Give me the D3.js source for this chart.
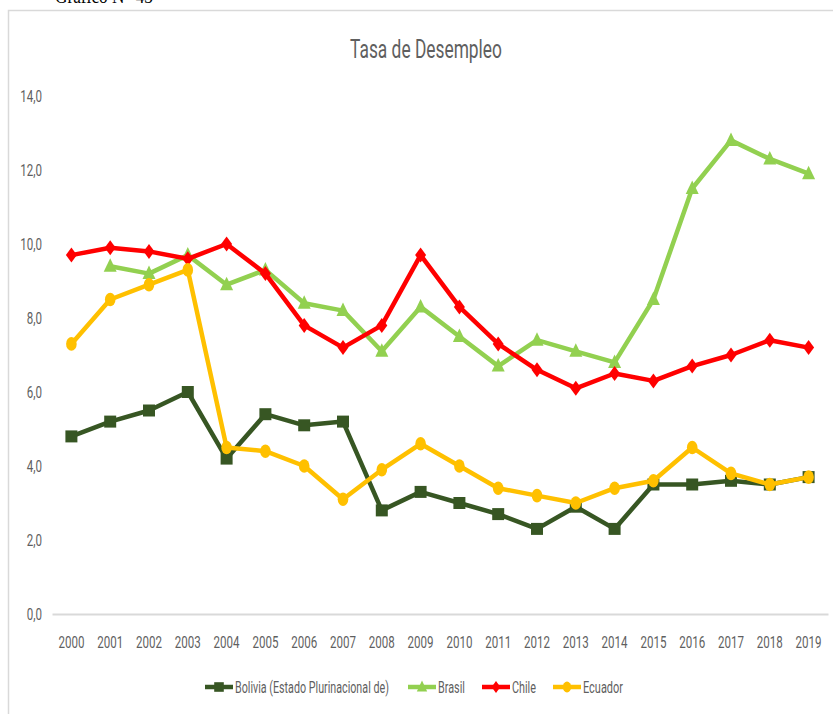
<!DOCTYPE html>
<html><head><meta charset="utf-8">
<script src="https://cdn.jsdelivr.net/npm/d3@7"></script>
<style>
html,body{margin:0;padding:0;background:#fff;}
svg{display:block;}
</style></head>
<body>
<svg id="chart" width="833" height="714"></svg>
<script>
const years = ["2000","2001","2002","2003","2004","2005","2006","2007","2008","2009","2010","2011","2012","2013","2014","2015","2016","2017","2018","2019"];
const bolivia = [4.8,5.2,5.5,6.0,4.2,5.4,5.1,5.2,2.8,3.3,3.0,2.7,2.3,2.9,2.3,3.5,3.5,3.6,3.5,3.7];
const brasil  = [null,9.4,9.2,9.7,8.9,9.3,8.4,8.2,7.1,8.3,7.5,6.7,7.4,7.1,6.8,8.5,11.5,12.8,12.3,11.9];
const chile   = [9.7,9.9,9.8,9.6,10.0,9.2,7.8,7.2,7.8,9.7,8.3,7.3,6.6,6.1,6.5,6.3,6.7,7.0,7.4,7.2];
const ecuador = [7.3,8.5,8.9,9.3,4.5,4.4,4.0,3.1,3.9,4.6,4.0,3.4,3.2,3.0,3.4,3.6,4.5,3.8,3.5,3.7];
const yTicks = [0,2,4,6,8,10,12,14];
const seriesNames = ["Bolivia (Estado Plurinacional de)","Brasil","Chile","Ecuador"];
const title = "Tasa de Desempleo";
const header = "Gráfico N° 43";

const colors = ["#375623","#92d050","#ff0000","#ffc000"];
const font = "Roboto,'DejaVu Sans Condensed',sans-serif";
const textColor = "#5f5f5f";

// marker shapes (centered at 0,0)
const markerPath = [
  s => { const h = 6*s; return `M${-h},${-h}H${h}V${h}H${-h}Z`; },
  s => { const w = 6.5*s, t = 8*s, b = 5.5*s; return `M0,${-t}L${w},${b}L${-w},${b}Z`; },
  s => { const w = 5.5*s, h = 7.5*s; return `M0,${-h}L${w},0L0,${h}L${-w},0Z`; },
  s => { const rx = 5.3*s, ry = 6.8*s; return `M${-rx},0A${rx},${ry} 0 1,0 ${rx},0A${rx},${ry} 0 1,0 ${-rx},0Z`; }
];

const svg = d3.select("#chart");
// horizontally squeeze a text (about its anchor) so that it reaches a given width
function squeezeTo(sel, width) {
  sel.each(function() {
    const t = d3.select(this);
    const w = this.getComputedTextLength();
    const f = width / w;
    const x0 = +t.attr("x") || 0, y0 = +t.attr("y") || 0;
    t.attr("x", 0).attr("y", 0)
     .attr("transform", `translate(${x0},${y0}) scale(${f},1)`);
  });
}
function squeezeBy(sel, f) {
  sel.each(function() {
    const t = d3.select(this);
    const x0 = +t.attr("x") || 0, y0 = +t.attr("y") || 0;
    t.attr("x", 0).attr("y", 0)
     .attr("transform", `translate(${x0},${y0}) scale(${f},1)`);
  });
}
// header (partially cropped at the top, as in the source page)
svg.append("text").attr("x",55).attr("y",3).attr("font-family","'Liberation Serif',serif")
  .attr("font-size",20).attr("fill","#000").text(header)
  .call(squeezeTo, 98);
// chart frame
svg.append("rect").attr("x",8.5).attr("y",10.5).attr("width",900).attr("height",800)
  .attr("fill","#fff").attr("stroke","#d9d9d9").attr("stroke-width",1.5);

svg.append("text").attr("x",426).attr("y",58).attr("text-anchor","middle")
  .attr("font-family",font).attr("font-size",26).attr("fill",textColor)
  .text(title).call(squeezeTo, 152);

const x = d3.scaleBand().domain(years).range([52,828]);
const y = d3.scaleLinear().domain([0,14]).range([614,96]);
const fs = 17;

// squeeze factor so a year label is about 26px wide
const probe = svg.append("text").attr("font-family",font).attr("font-size",fs).text("2000");
const squeeze = 26 / probe.node().getComputedTextLength();
probe.remove();

// y axis labels
const ya = svg.append("g").attr("transform","translate(42,0)")
  .call(d3.axisLeft(y).tickValues(yTicks).tickSize(0).tickPadding(0)
    .tickFormat(d => d3.format(".1f")(d).replace(".",",")));
ya.select(".domain").remove();
ya.selectAll("text").attr("font-family",font).attr("font-size",fs).attr("fill",textColor);
squeezeBy(ya.selectAll("text"), squeeze);

// x axis
const xa = svg.append("g").attr("transform","translate(0,614)")
  .call(d3.axisBottom(x).tickSize(0).tickPadding(22));
xa.select(".domain").attr("stroke","#d9d9d9").attr("stroke-width",2);
xa.selectAll("text").attr("font-family",font).attr("font-size",fs).attr("fill",textColor);
squeezeBy(xa.selectAll("text"), squeeze);

const all = [bolivia, brasil, chile, ecuador];
const cx = i => x(years[i]) + x.bandwidth()/2;
const line = d3.line().defined(d => d.v != null).x(d => cx(d.i)).y(d => y(d.v));

all.forEach((vals, s) => {
  const pts = vals.map((v,i)=>({v,i}));
  const g = svg.append("g");
  g.append("path").datum(pts).attr("d", line).attr("fill","none")
    .attr("stroke", colors[s]).attr("stroke-width",4.5).attr("stroke-linejoin","round");
  g.selectAll("path.m").data(pts.filter(d=>d.v!=null)).join("path").attr("class","m")
    .attr("transform", d => `translate(${cx(d.i)},${y(d.v)})`)
    .attr("d", markerPath[s](1))
    .attr("fill", colors[s]);
});

// legend
const legX = [205, 408, 482, 553];
const legW = [154, 27, 24, 40];
const legY = 687;
seriesNames.forEach((n,s) => {
  const g = svg.append("g").attr("transform",`translate(${legX[s]},${legY})`);
  g.append("line").attr("x1",0).attr("x2",28).attr("y1",0).attr("y2",0)
    .attr("stroke",colors[s]).attr("stroke-width",4.5);
  g.append("path").attr("transform","translate(14,0)")
    .attr("d", markerPath[s](0.8)).attr("fill",colors[s]);
  g.append("text").attr("x",30).attr("y",6).attr("font-family",font).attr("font-size",fs)
    .attr("fill",textColor).text(n).call(squeezeTo, legW[s]);
});
</script>
</body></html>
